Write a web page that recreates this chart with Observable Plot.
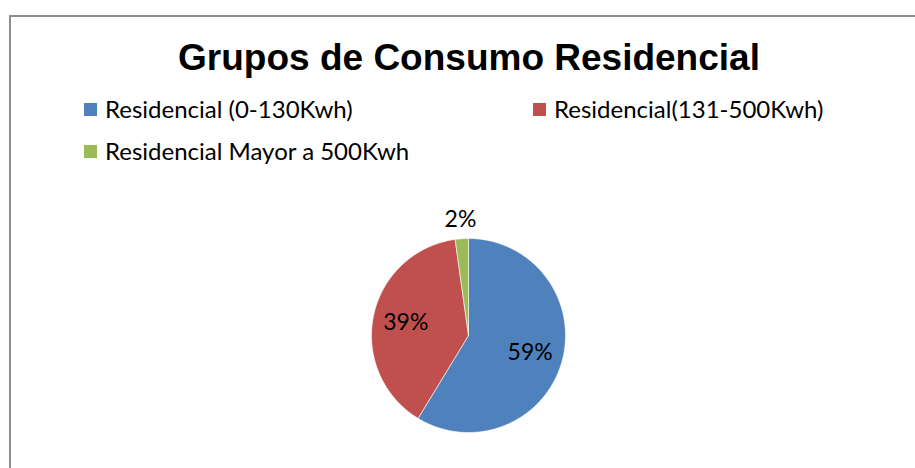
<!DOCTYPE html>
<html>
<head>
<meta charset="utf-8">
<script src="https://cdn.jsdelivr.net/npm/d3@7"></script>
<script src="https://cdn.jsdelivr.net/npm/@observablehq/plot@0.6"></script>
<style>
  html, body { margin: 0; padding: 0; background: #fff; width: 915px; height: 468px; overflow: hidden; }
  #frame { position: absolute; left: 9px; top: 15px; width: 1000px; height: 600px;
           border-left: 2px solid #8e8e8e; border-top: 2px solid #8e8e8e; }
  #title { position: absolute; left: 0; width: 938px; top: 36px; text-align: center;
           font-family: "Liberation Sans", Arial, sans-serif; font-weight: bold; font-size: 37px; line-height: 44px; color: #000; }
  .leg { position: absolute; font-family: Lato, "Open Sans", sans-serif; font-size: 24px; color: #000; white-space: nowrap; line-height: 28px; }
  .sw { position: absolute; width: 13px; height: 13px; }
  #pie { position: absolute; left: 338px; top: 205px; }
</style>
</head>
<body>
<div id="frame"></div>
<div id="title">Grupos de Consumo Residencial</div>
<div id="legend"></div>
<div id="pie"></div>
<script>
const categories = ["Residencial (0-130Kwh)", "Residencial(131-500Kwh)", "Residencial Mayor a 500Kwh"];
const values = [58.7, 39.1, 2.2];
const labels = ["59%", "39%", "2%"];
const colors = ["#4F81BD", "#C0504D", "#9BBB59"];

// legend
const legendPos = [[84, 103], [533, 103], [84, 145]];
const legend = document.getElementById("legend");
categories.forEach((c, i) => {
  const [lx, ly] = legendPos[i];
  const sw = document.createElement("div");
  sw.className = "sw";
  sw.style.left = lx + "px"; sw.style.top = ly + "px"; sw.style.background = colors[i];
  legend.appendChild(sw);
  const t = document.createElement("div");
  t.className = "leg";
  t.style.left = (lx + 21) + "px"; t.style.top = (ly - 8) + "px";
  t.textContent = c;
  legend.appendChild(t);
});

// pie slices as polygons in unit coordinates
const total = d3.sum(values);
let acc = 0;
const slices = [];
const labelPts = [];
values.forEach((v, i) => {
  const a0 = acc / total * 2 * Math.PI;
  acc += v;
  const a1 = acc / total * 2 * Math.PI;
  const n = Math.max(4, Math.ceil((a1 - a0) / 0.01));
  slices.push({cat: categories[i], x: 0, y: 0});
  for (let k = 0; k <= n; k++) {
    const a = a0 + (a1 - a0) * k / n;
    slices.push({cat: categories[i], x: Math.sin(a), y: Math.cos(a)});
  }
  slices.push({cat: categories[i], x: 0, y: 0});
  const am = (a0 + a1) / 2;
  const r = v / total < 0.05 ? 1.2 : 0.66;
  labelPts.push({label: labels[i], x: r * Math.sin(am), y: r * Math.cos(am)});
});

const S = 260, R = 97;
const a = (S / 2) / R;
const chart = Plot.plot({
  width: S, height: S,
  margin: 0,
  x: {domain: [-a, a], axis: null},
  y: {domain: [-a, a], axis: null},
  color: {domain: categories, range: colors},
  marks: [
    Plot.line(slices, {x: "x", y: "y", z: "cat", fill: "cat", stroke: "#fff", strokeWidth: 0.6, curve: "linear"}),
    Plot.text(labelPts, {x: "x", y: "y", text: "label", fontSize: 23, fill: "#000",
      fontFamily: "Lato, 'Open Sans', sans-serif"})
  ]
});
document.getElementById("pie").appendChild(chart);
</script>
</body>
</html>
